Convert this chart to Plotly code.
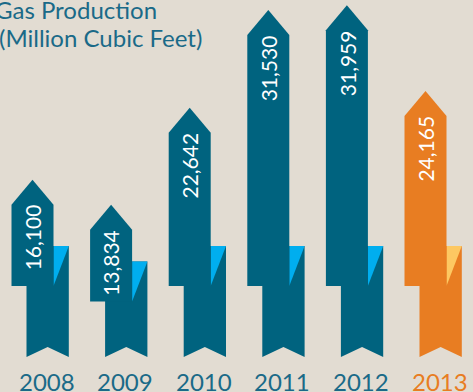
import plotly.graph_objects as go

# ---- data ----
years = ["2008", "2009", "2010", "2011", "2012", "2013"]
values = [16100, 13834, 22642, 31530, 31959, 24165]
labels = ["16,100", "13,834", "22,642", "31,530", "31,959", "24,165"]
highlight = [False, False, False, False, False, True]

# ---- style ----
BG = "#E2DCD2"
DARK = "#00637F"
LIGHT = "#00AEEF"
ORANGE = "#E87D22"
LORANGE = "#FDC862"
TEXT_TEAL = "#1A6A88"

W, H = 473, 392
# axis scales (pixels per unit)
PX_X = 78.6
X0_PX = 32.5
PX_Y = 0.011004
BASE_PX = 357.0
xr = [-X0_PX / PX_X, (W - X0_PX) / PX_X]
yr = [-(H - BASE_PX) / PX_Y, BASE_PX / PX_Y]
ux = 1.0 / PX_X          # one pixel in x units
uy = 1.0 / PX_Y          # one pixel in y units

body_w = 42 * ux
rib_off = 15 * ux
rib_w = 42.3 * ux
head_h = 25 * uy
notch = 10 * uy
body_bottom_default = (BASE_PX - 286) * uy
gap = 40 * uy

fig = go.Figure()
for i, (yv, v) in enumerate(zip(years, values)):
    dark = ORANGE if highlight[i] else DARK
    light = LORANGE if highlight[i] else LIGHT
    l = i - body_w / 2
    r = i + body_w / 2
    bb = min(body_bottom_default, v - 96.7 * uy)
    rt = bb + gap
    rl = l + rib_off
    rr = rl + rib_w
    # ribbon
    fig.add_trace(go.Scatter(
        x=[rl, rr, rr, (rl + rr) / 2, rl, rl],
        y=[rt, rt, 0, notch, 0, rt],
        fill="toself", fillcolor=dark, mode="lines", line=dict(width=0),
        hoverinfo="skip", showlegend=False))
    # fold triangle
    fig.add_trace(go.Scatter(
        x=[r, rr, r, r], y=[rt, rt, bb, rt],
        fill="toself", fillcolor=light, mode="lines", line=dict(width=0),
        hoverinfo="skip", showlegend=False))
    # arrow body
    sh = v - head_h
    fig.add_trace(go.Scatter(
        x=[l, r, r, i, l, l], y=[bb, bb, sh, v, sh, bb],
        fill="toself", fillcolor=dark, mode="lines", line=dict(width=0),
        hoverinfo="skip", showlegend=False))
    # value label
    fig.add_annotation(x=i, y=sh + 1 * uy, text=labels[i], textangle=-90,
                       xanchor="center", yanchor="top", showarrow=False,
                       borderpad=0,
                       font=dict(family="Lato", size=21, color="white", weight=400))
    # year label
    fig.add_annotation(x=i + 14 * ux, y=-8.5 * uy, text=yv, showarrow=False,
                       xanchor="center", yanchor="top", borderpad=0,
                       font=dict(family="Lato", size=24,
                                 color=ORANGE if highlight[i] else TEXT_TEAL))

fig.add_annotation(xref="paper", yref="paper", x=-6 / W, y=1 + 6 / H,
                   text="Gas Production", showarrow=False, xanchor="left",
                   yanchor="top", borderpad=0,
                   font=dict(family="Lato", size=24, color=TEXT_TEAL))
fig.add_annotation(xref="paper", yref="paper", x=-2 / W, y=1 - 22 / H,
                   text="(Million Cubic Feet)", showarrow=False, xanchor="left",
                   yanchor="top", borderpad=0,
                   font=dict(family="Lato", size=24, color=TEXT_TEAL))

fig.update_layout(
    width=W, height=H, margin=dict(l=0, r=0, t=0, b=0),
    paper_bgcolor=BG, plot_bgcolor=BG,
    xaxis=dict(range=xr, visible=False, fixedrange=True),
    yaxis=dict(range=yr, visible=False, fixedrange=True),
)
fig.write_html("out.html")
